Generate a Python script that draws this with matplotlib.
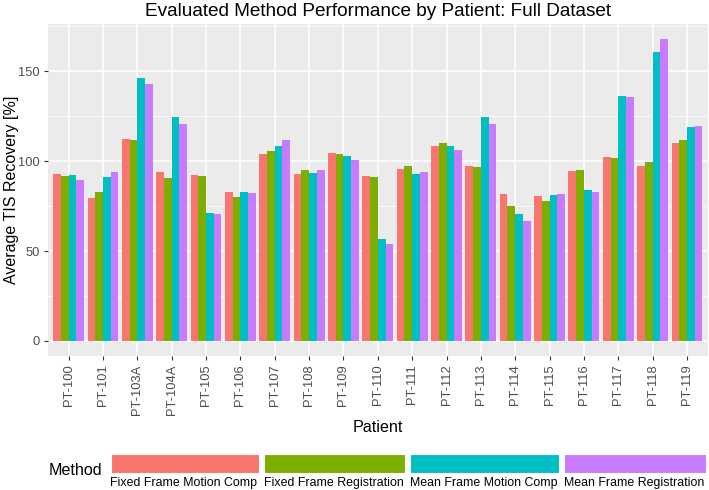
import numpy as np
import matplotlib
matplotlib.use("Agg")
import matplotlib.pyplot as plt
from matplotlib.patches import Rectangle

plt.rcParams['font.family'] = ['Liberation Sans', 'DejaVu Sans']

# --- data ---
patients = ['PT-100', 'PT-101', 'PT-103A', 'PT-104A', 'PT-105', 'PT-106', 'PT-107',
            'PT-108', 'PT-109', 'PT-110', 'PT-111', 'PT-112', 'PT-113', 'PT-114',
            'PT-115', 'PT-116', 'PT-117', 'PT-118', 'PT-119']
methods = ['Fixed Frame Motion Comp', 'Fixed Frame Registration',
           'Mean Frame Motion Comp', 'Mean Frame Registration']
fixed_motion = [92.6, 79.6, 112.2, 93.9, 92.4, 82.8, 104.1, 93.1, 104.6, 91.9,
                95.6, 108.5, 97.4, 81.9, 80.6, 94.4, 102.2, 97.4, 110.0]
fixed_reg = [91.5, 82.6, 112.0, 90.7, 91.5, 80.0, 105.7, 95.0, 103.9, 91.1,
             97.2, 110.2, 96.9, 75.2, 77.8, 95.0, 101.5, 99.4, 111.5]
mean_motion = [92.2, 91.1, 146.5, 124.3, 70.9, 83.1, 108.5, 93.3, 102.8, 56.7,
               93.1, 108.3, 124.3, 70.7, 80.9, 83.9, 136.1, 160.9, 119.1]
mean_reg = [89.3, 93.9, 143.1, 120.4, 70.4, 82.4, 112.0, 95.2, 100.6, 53.7,
            93.9, 106.3, 120.4, 66.7, 81.5, 82.6, 135.6, 167.9, 119.4]
colors = ['#F8766D', '#7CAE00', '#00BFC4', '#C77CFF']

W, H = 709, 490
fig = plt.figure(figsize=(W / 100, H / 100), dpi=100)
ax = fig.add_axes([48 / W, (H - 356) / H, (707.6 - 48) / W, (356 - 24) / H])
ax.set_facecolor('#EBEBEB')

series = [fixed_motion, fixed_reg, mean_motion, mean_reg]
x = np.arange(len(patients))
bw = 0.9 / 4
for i, (vals, c) in enumerate(zip(series, colors)):
    ax.bar(x - 0.45 + bw * (i + 0.5), vals, width=bw, color=c, zorder=3)

top = max(max(s) for s in series)
ax.set_ylim(-0.05 * top, top * 1.05)
ax.set_xlim(-0.6, len(patients) - 0.4)

ax.set_yticks([0, 50, 100, 150])
ax.set_yticks([25, 75, 125, 175], minor=True)
ax.set_xticks(x)
ax.set_xticklabels(patients, rotation=90, fontsize=9.3, color='#4D4D4D')
ax.tick_params(axis='y', labelsize=9.3, labelcolor='#4D4D4D')
ax.tick_params(which='major', length=3, width=0.8, color='#333333', pad=3)
ax.tick_params(which='minor', length=0)
ax.grid(True, which='major', color='white', linewidth=1.1, zorder=0)
ax.grid(True, which='minor', axis='y', color='white', linewidth=0.55, zorder=0)
ax.set_axisbelow(True)
for s in ax.spines.values():
    s.set_visible(False)

ax.set_xlabel('Patient', fontsize=11.6, labelpad=4)
fig.text(12 / W, 1 - 190 / H, 'Average TIS Recovery [%]', rotation=90,
         ha='center', va='center', fontsize=11.5)
fig.text(378 / W, 1 - 12 / H, 'Evaluated Method Performance by Patient: Full Dataset',
         ha='center', va='center', fontsize=13.7)

# --- legend at bottom: wide keys with labels underneath ---
fig.text(102 / W, 1 - 470.5 / H, 'Method', ha='right', va='center', fontsize=11.6)
fig.canvas.draw()
renderer = fig.canvas.get_renderer()
xpos = 110.5
for m, c in zip(methods, colors):
    t = fig.text(xpos / W, 1 - 483 / H, m, ha='left', va='center', fontsize=8.95)
    w = t.get_window_extent(renderer).width + 1.5
    fig.patches.append(Rectangle((xpos / W, 1 - 473 / H), w / W, 19 / H,
                                 transform=fig.transFigure, facecolor=c,
                                 edgecolor='white', linewidth=0.8))
    xpos += w + 5

fig.savefig('out.png', dpi=100)
